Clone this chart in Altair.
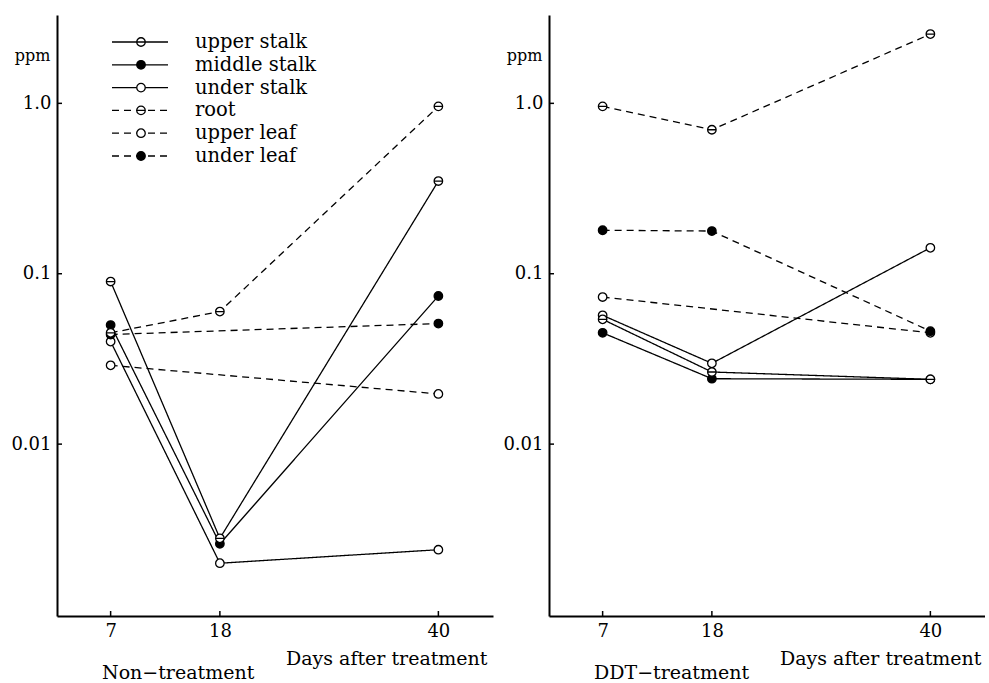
import altair as alt
import pandas as pd

# ---------------- data ----------------
days = [7, 18, 40]
series_names = ["upper stalk", "middle stalk", "under stalk", "root", "upper leaf", "under leaf"]
series_style = ["solid", "solid", "solid", "dashed", "dashed", "dashed"]
series_marker = ["bar", "filled", "open", "bar", "open", "filled"]

# Non-treatment (ppm), None = not measured
non_upper_stalk = [0.09, 0.0028, 0.35]
non_middle_stalk = [0.05, 0.0026, 0.074]
non_under_stalk = [0.04, 0.002, 0.0024]
non_root = [0.045, 0.06, 0.96]
non_upper_leaf = [0.029, None, 0.0197]
non_under_leaf = [0.044, None, 0.051]

# DDT-treatment (ppm)
ddt_upper_stalk = [0.054, 0.0265, 0.024]
ddt_middle_stalk = [0.045, 0.0242, 0.024]
ddt_under_stalk = [0.057, 0.0298, 0.142]
ddt_root = [0.96, 0.70, 2.55]
ddt_upper_leaf = [0.073, None, 0.045]
ddt_under_leaf = [0.18, 0.178, 0.046]

ytick_vals = [0.01, 0.1, 1.0]
ytick_labels = ["0.01", "0.1", "1.0"]

non_series = [non_upper_stalk, non_middle_stalk, non_under_stalk, non_root, non_upper_leaf, non_under_leaf]
ddt_series = [ddt_upper_stalk, ddt_middle_stalk, ddt_under_stalk, ddt_root, ddt_upper_leaf, ddt_under_leaf]


def build_df(series_list):
    rows = []
    for name, style, marker, vals in zip(series_names, series_style, series_marker, series_list):
        for d, v in zip(days, vals):
            if v is not None:
                rows.append({"series": name, "style": style, "marker": marker, "day": d, "value": v})
    return pd.DataFrame(rows)


df_non = build_df(non_series)
df_ddt = build_df(ddt_series)

# ---------------- style ----------------
FONT = "DejaVu Serif"
W, H = 436, 601
BAR_CIRCLE = "M-1,0A1,1,0,1,0,1,0A1,1,0,1,0,-1,0ZM-1,0L1,0"
DASH = [7, 5]
x_scale = alt.Scale(domain=[1.6, 45.5], nice=False, zero=False)
y_scale = alt.Scale(type="log", domain=[0.00098, 3.3], nice=False)
dash_scale = alt.Scale(domain=["solid", "dashed"], range=[[1, 0], DASH])

label_expr = " : ".join(
    [f"datum.value == {v} ? '{l}'" for v, l in zip(ytick_vals, ytick_labels)]
) + " : ''"


def make_panel(df, panel_label, title_x, with_legend):
    x_enc = alt.X(
        "day:Q", scale=x_scale,
        axis=alt.Axis(values=days, ticks=False, grid=False, domainColor="black", domainWidth=2,
                      labelFont=FONT, labelFontSize=18, labelColor="black", labelPadding=6,
                      title="Days after treatment", titleFont=FONT, titleFontSize=19,
                      titleFontWeight="normal", titleColor="black", titleX=title_x, titleY=42,
                      titleAlign="right", titleBaseline="middle", titleAnchor="end"),
    )
    y_enc = alt.Y(
        "value:Q", scale=y_scale,
        axis=alt.Axis(values=ytick_vals, labelExpr=label_expr, ticks=False, grid=False,
                      domainColor="black", domainWidth=2, labelFont=FONT, labelFontSize=18,
                      labelColor="black", labelPadding=6, labelBaseline="middle",
                      title="ppm", titleFont=FONT, titleFontSize=16, titleFontWeight="normal",
                      titleColor="black", titleAngle=0, titleX=-7, titleY=40,
                      titleAlign="right", titleBaseline="middle"),
    )
    base = alt.Chart(df)
    lines = base.mark_line(color="black", strokeWidth=1.3).encode(
        x=x_enc, y=y_enc, detail="series:N",
        strokeDash=alt.StrokeDash("style:N", scale=dash_scale, legend=None),
        order="day:Q",
    )
    pt_kw = dict(size=72, strokeWidth=1.3, opacity=1, filled=True, stroke="black")
    open_pts = base.transform_filter(alt.datum.marker == "open").mark_point(
        shape="circle", fill="white", **pt_kw).encode(x=x_enc, y=y_enc)
    filled_pts = base.transform_filter(alt.datum.marker == "filled").mark_point(
        shape="circle", fill="black", **pt_kw).encode(x=x_enc, y=y_enc)
    bar_pts = base.transform_filter(alt.datum.marker == "bar").mark_point(
        shape=BAR_CIRCLE, fill="white", **pt_kw).encode(x=x_enc, y=y_enc)

    ytick_df = pd.DataFrame({"value": ytick_vals})
    yticks = alt.Chart(ytick_df).mark_rule(color="black", strokeWidth=1.5).encode(
        y=y_enc, x=alt.value(0), x2=alt.value(5))
    xtick_df = pd.DataFrame({"day": days})
    xticks = alt.Chart(xtick_df).mark_rule(color="black", strokeWidth=1.5).encode(
        x=x_enc, y=alt.value(H), y2=alt.value(H - 5))

    lab = alt.Chart(pd.DataFrame({"t": [panel_label]})).mark_text(
        font=FONT, fontSize=19, align="left", baseline="middle", color="black").encode(
        text="t:N", x=alt.value(45), y=alt.value(658))

    layers = [lines, open_pts, filled_pts, bar_pts, yticks, xticks, lab]

    if with_legend:
        for i, (name, style, marker) in enumerate(zip(series_names, series_style, series_marker)):
            yy = 27 + i * 22.8
            one = alt.Chart(pd.DataFrame({"series": [name]}))
            rule = one.mark_rule(color="black", strokeWidth=1.3,
                                 strokeDash=DASH if style == "dashed" else [1, 0]).encode(
                x=alt.value(55), x2=alt.value(111), y=alt.value(yy))
            shape = BAR_CIRCLE if marker == "bar" else "circle"
            fill = "black" if marker == "filled" else "white"
            pt = one.mark_point(shape=shape, fill=fill, **pt_kw).encode(
                x=alt.value(84), y=alt.value(yy))
            txt = one.mark_text(font=FONT, fontSize=19.5, align="left", baseline="middle",
                                color="black").encode(text="series:N", x=alt.value(138),
                                                       y=alt.value(yy))
            layers += [rule, pt, txt]

    return alt.layer(*layers).properties(width=W, height=H)


left = make_panel(df_non, "Non−treatment", 430, True)
right = make_panel(df_ddt, "DDT−treatment", 432, False)

chart = alt.hconcat(left, right, spacing=56, bounds="flush").properties(
    padding={"left": 10, "top": 15, "right": 0, "bottom": 0},
    background="white",
).configure_view(strokeWidth=0)

chart.save("out.html", embed_options={"renderer": "svg", "actions": False})
